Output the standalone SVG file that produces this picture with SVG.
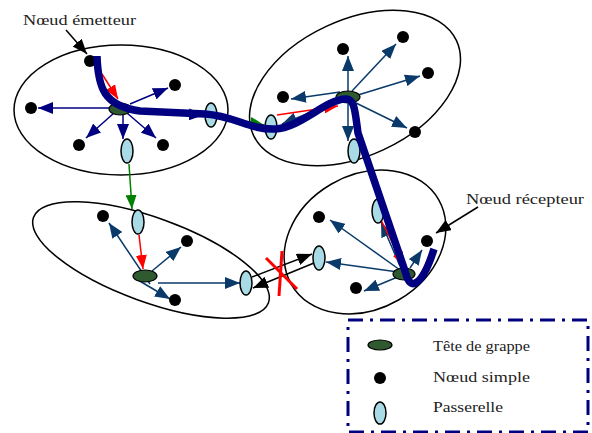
<svg xmlns="http://www.w3.org/2000/svg" width="592" height="433" viewBox="0 0 592 433">
<defs>
<marker id="mNavy" markerUnits="userSpaceOnUse" markerWidth="15" markerHeight="12" refX="15" refY="6" orient="auto"><path d="M0,0 L15,6 L0,12 z" fill="#000080"/></marker>
<marker id="mBlue" markerUnits="userSpaceOnUse" markerWidth="15" markerHeight="12" refX="15" refY="6" orient="auto"><path d="M0,0 L15,6 L0,12 z" fill="#0a3a6a"/></marker>
<marker id="mRed" markerUnits="userSpaceOnUse" markerWidth="14" markerHeight="11" refX="14" refY="5.5" orient="auto"><path d="M0,0 L14,5.5 L0,11 z" fill="#ff0000"/></marker>
<marker id="mGreen" markerUnits="userSpaceOnUse" markerWidth="14" markerHeight="11" refX="14" refY="5.5" orient="auto"><path d="M0,0 L14,5.5 L0,11 z" fill="#008000"/></marker>
<marker id="mBlack" markerUnits="userSpaceOnUse" markerWidth="15" markerHeight="12" refX="15" refY="6" orient="auto"><path d="M0,0 L15,6 L0,12 z" fill="#000"/></marker>
</defs>
<style>
.cl{fill:none;stroke:#000;stroke-width:1.5}
.dot{fill:#000}
.head{fill:#2f5a30;stroke:#000;stroke-width:1.2}
.gw{fill:#a9dbe6;stroke:#000;stroke-width:1.5}
.an{stroke:#000080;stroke-width:1.5;fill:none;marker-end:url(#mNavy)}
.ab{stroke:#0a3a6a;stroke-width:1.5;fill:none;marker-end:url(#mBlue)}
.ar{stroke:#ff0000;stroke-width:1.5;fill:none;marker-end:url(#mRed)}
.ag{stroke:#008000;stroke-width:1.5;fill:none;marker-end:url(#mGreen)}
.ak{stroke:#000;stroke-width:1.5;fill:none;marker-end:url(#mBlack)}
.t{font-family:"Liberation Serif","Times New Roman",serif;font-size:14px;fill:#222}
</style>

<g id="clusters">
<ellipse id="cluster1" class="cl" cx="121" cy="110" rx="107" ry="65"/>
<ellipse id="cluster2" class="cl" cx="355" cy="88" rx="112" ry="68" transform="rotate(-25 355 88)"/>
<ellipse id="cluster3" class="cl" cx="151" cy="260" rx="125" ry="42" transform="rotate(20 151 260)"/>
<ellipse id="cluster4" class="cl" cx="365" cy="242" rx="85" ry="67" transform="rotate(-30 365 242)"/>
</g>

<g id="connectors">
<line class="an" x1="112" y1="108" x2="38" y2="108"/>
<line class="an" x1="130" y1="104" x2="168" y2="88"/>
<line class="an" x1="114" y1="113" x2="86" y2="138"/>
<line class="an" x1="123" y1="114" x2="123" y2="139"/>
<line class="an" x1="127" y1="113" x2="156" y2="138"/>
<line class="an" x1="132" y1="112" x2="204" y2="115"/>
<line class="ar" x1="102" y1="74" x2="118" y2="99"/>
<line class="ag" x1="129" y1="164" x2="132" y2="209"/>
<line class="ag" x1="218" y1="116" x2="264" y2="125"/>

<line class="ab" x1="348" y1="91" x2="348" y2="56"/>
<line class="ab" x1="352" y1="91" x2="396" y2="44"/>
<line class="ab" x1="358" y1="95" x2="420" y2="76"/>
<line class="ab" x1="340" y1="92" x2="291" y2="99"/>
<line class="ab" x1="356" y1="103" x2="407" y2="128"/>
<line class="ab" x1="348" y1="104" x2="348" y2="141"/>
<line class="ab" x1="336" y1="102" x2="282" y2="124"/>
<line class="ar" x1="277" y1="115" x2="338" y2="106"/>

<line class="ab" x1="150" y1="284" x2="109" y2="223"/>
<line class="ab" x1="138" y1="280" x2="170" y2="299"/>
<line class="ab" x1="152" y1="271" x2="181" y2="247"/>
<line class="ab" x1="158" y1="283" x2="240" y2="283"/>
<line class="ar" x1="139" y1="235" x2="143" y2="269"/>

<line class="ak" x1="252" y1="277" x2="312" y2="254"/>
<line class="ak" x1="314" y1="263" x2="253" y2="288"/>

<line class="ab" x1="400" y1="270" x2="330" y2="220"/>
<line class="ab" x1="398" y1="272" x2="326" y2="262"/>
<line class="ab" x1="400" y1="276" x2="364" y2="291"/>
<line class="ab" x1="410" y1="268" x2="422" y2="250"/>
<line class="ab" x1="400" y1="266" x2="381" y2="222"/>
<line class="ar" x1="378" y1="214" x2="404" y2="266"/>
</g>

<g id="n1-sender"><circle class="dot" cx="90" cy="61" r="6"/></g>
<g id="n1-a"><circle class="dot" cx="175" cy="85" r="6"/></g>
<g id="n1-b"><circle class="dot" cx="31" cy="108" r="6"/></g>
<g id="n1-c"><circle class="dot" cx="79" cy="145" r="6"/></g>
<g id="n1-d"><circle class="dot" cx="163" cy="145" r="6"/></g>
<g id="n1-head"><ellipse class="head" cx="120" cy="109" rx="11" ry="6"/></g>
<g id="n1-gw1"><ellipse class="gw" cx="127" cy="151" rx="6" ry="12"/></g>
<g id="n1-gw2"><ellipse class="gw" cx="211" cy="115" rx="6" ry="12"/></g>

<g id="n2-a"><circle class="dot" cx="343" cy="49" r="6"/></g>
<g id="n2-b"><circle class="dot" cx="403" cy="37" r="6"/></g>
<g id="n2-c"><circle class="dot" cx="428" cy="73" r="6"/></g>
<g id="n2-d"><circle class="dot" cx="283" cy="97" r="6"/></g>
<g id="n2-e"><circle class="dot" cx="415" cy="132" r="6"/></g>
<g id="n2-head"><ellipse class="head" cx="348" cy="97" rx="12" ry="6"/></g>
<g id="n2-gw1"><ellipse class="gw" cx="271" cy="127" rx="6" ry="12"/></g>
<g id="n2-gw2"><ellipse class="gw" cx="354" cy="151" rx="6" ry="12"/></g>

<g id="n3-a"><circle class="dot" cx="103" cy="216" r="6"/></g>
<g id="n3-b"><circle class="dot" cx="187" cy="241" r="6"/></g>
<g id="n3-c"><circle class="dot" cx="175" cy="300" r="6"/></g>
<g id="n3-head"><ellipse class="head" cx="145" cy="276" rx="12" ry="6"/></g>
<g id="n3-gw1"><ellipse class="gw" cx="138" cy="222" rx="6" ry="12"/></g>
<g id="n3-gw2"><ellipse class="gw" cx="246" cy="283" rx="6" ry="12"/></g>

<g id="n4-a"><circle class="dot" cx="319" cy="217" r="6"/></g>
<g id="n4-receiver"><circle class="dot" cx="427" cy="241" r="6"/></g>
<g id="n4-c"><circle class="dot" cx="356" cy="288" r="6"/></g>
<g id="n4-head"><ellipse class="head" cx="404" cy="274" rx="11" ry="6"/></g>
<g id="n4-gw1"><ellipse class="gw" cx="319" cy="258" rx="6" ry="12"/></g>
<g id="n4-gw2"><ellipse class="gw" cx="378" cy="211" rx="6" ry="12"/></g>

<g id="route">
<path d="M97,56 C98,88 104,106 140,111 L205,114 C235,116 250,130 275,129 C300,128 325,100 345,99 C355,98 355,112 358,133 L406,274 C410,291 422,287 434,249" fill="none" stroke="#000080" stroke-width="7.5" stroke-linejoin="round"/>
</g>

<g id="broken-link">
<line x1="266" y1="258" x2="297" y2="289" stroke="#ff0000" stroke-width="3"/>
<line x1="282" y1="251" x2="279" y2="296" stroke="#ff0000" stroke-width="3"/>
</g>

<g id="label-sender">
<text class="t" x="23" y="25" textLength="113" lengthAdjust="spacingAndGlyphs">Nœud émetteur</text>
<line class="ak" x1="66" y1="30" x2="87" y2="54"/>
</g>
<g id="label-receiver">
<text class="t" x="466" y="204" textLength="118" lengthAdjust="spacingAndGlyphs">Nœud récepteur</text>
<line class="ak" x1="478" y1="207" x2="436" y2="233"/>
</g>

<g id="legend">
<rect x="348" y="320" width="240" height="112" fill="none" stroke="#000080" stroke-width="3" stroke-dasharray="15,7,3,7"/>
<ellipse class="head" cx="380" cy="345" rx="12" ry="5"/>
<text class="t" x="433" y="351" textLength="97" lengthAdjust="spacingAndGlyphs">Tête de grappe</text>
<circle class="dot" cx="380" cy="378" r="6"/>
<text class="t" x="433" y="382" textLength="97" lengthAdjust="spacingAndGlyphs">Nœud simple</text>
<ellipse class="gw" cx="380" cy="413" rx="6" ry="11"/>
<text class="t" x="433" y="412" textLength="70" lengthAdjust="spacingAndGlyphs">Passerelle</text>
</g>
</svg>
